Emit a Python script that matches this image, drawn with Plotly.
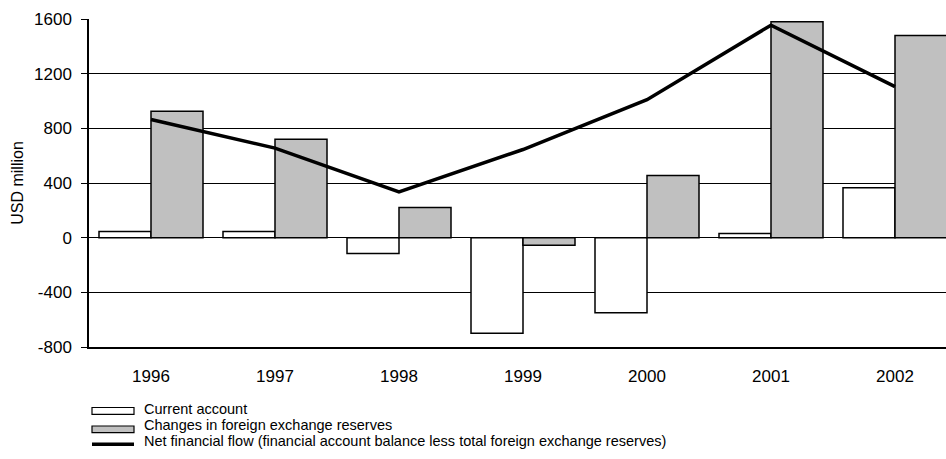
import plotly.graph_objects as go

years = ["1996", "1997", "1998", "1999", "2000", "2001", "2002"]
current_account = [45, 45, -115, -700, -550, 30, 365]
fx_reserves = [925, 720, 220, -55, 455, 1580, 1480]
net_financial_flow = [865, 655, 335, 645, 1010, 1555, 1105]
y_ticks = [-800, -400, 0, 400, 800, 1200, 1600]
y_tick_labels = ["-800", "-400", "0", "400", "800", "1200", "1600"]

legend_labels = [
    "Current account",
    "Changes in foreign exchange reserves",
    "Net financial flow (financial account balance less total foreign exchange reserves)",
]

W, H = 946, 459
L, R, T, B = 89, 0, 19, 112
PW, PH = W - L - R, H - T - B
FONT = "Liberation Sans, Arial, sans-serif"

xs = list(range(len(years)))

fig = go.Figure()
fig.add_trace(go.Bar(x=xs, y=current_account, name=legend_labels[0],
                     marker=dict(color="white", line=dict(color="black", width=1.5))))
fig.add_trace(go.Bar(x=xs, y=fx_reserves, name=legend_labels[1],
                     marker=dict(color="#C0C0C0", line=dict(color="black", width=1.5))))
fig.add_trace(go.Scatter(x=xs, y=net_financial_flow, name=legend_labels[2], mode="lines",
                         line=dict(color="black", width=3.5)))

xmax = len(years) - 0.5 - 11 / 124

def px_x(p):
    return (p - L) / PW

def px_y(p):
    return (H - B - p) / PH

shapes = []
annotations = []
rows = [(408.5, 407.5, 414.3), (425, 426, 432.7), (441, None, 444.3)]
for i, (tc, top, bot) in enumerate(rows):
    if i < 2:
        shapes.append(dict(type="rect", xref="paper", yref="paper",
                           x0=px_x(92), x1=px_x(134), y0=px_y(bot), y1=px_y(top),
                           fillcolor="white" if i == 0 else "#C0C0C0",
                           line=dict(color="black", width=1.2)))
    else:
        shapes.append(dict(type="line", xref="paper", yref="paper",
                           x0=px_x(92), x1=px_x(134), y0=px_y(bot), y1=px_y(bot),
                           line=dict(color="black", width=3.5)))
    annotations.append(dict(text=legend_labels[i], xref="paper", yref="paper",
                            x=px_x(143), y=px_y(tc), xanchor="left", yanchor="middle",
                            showarrow=False, borderpad=0,
                            font=dict(family=FONT, size=14.5, color="black")))

fig.update_layout(
    width=W, height=H,
    margin=dict(l=L, r=R, t=T, b=B),
    paper_bgcolor="white", plot_bgcolor="white",
    barmode="group", bargap=20 / 124, bargroupgap=0,
    showlegend=False,
    font=dict(family=FONT, size=17, color="black"),
    xaxis=dict(range=[-0.5, xmax], tickvals=xs, ticktext=years, ticks="",
               showline=True, linecolor="black", linewidth=1.5, showgrid=False,
               zeroline=False, ticklabelstandoff=13, automargin=False,
               tickfont=dict(family=FONT, size=17, color="black")),
    xaxis2=dict(range=[-0.5, xmax], overlaying="x", anchor="free", position=1 / 3,
                tickvals=[i + 0.5 for i in range(len(years) - 1)], ticks="outside",
                ticklen=6, tickcolor="black", tickwidth=1, showticklabels=False,
                showline=True, linecolor="black", linewidth=1.5, showgrid=False,
                zeroline=False),
    yaxis=dict(range=[-800, 1600], tickvals=y_ticks, ticktext=y_tick_labels,
               ticks="outside", ticklen=6,
               tickcolor="black", showline=True, linecolor="black", linewidth=1.5,
               showgrid=True, gridcolor="black", gridwidth=1, zeroline=False,
               ticklabelstandoff=6, automargin=False,
               tickfont=dict(family=FONT, size=17, color="black"),
               title=dict(text="USD million", standoff=6,
                          font=dict(family=FONT, size=16, color="black"))),
    shapes=shapes,
    annotations=annotations,
)

fig.write_html("out.html", config={"displayModeBar": False},
               post_script="document.body.style.margin='0';document.body.style.overflow='hidden';")
